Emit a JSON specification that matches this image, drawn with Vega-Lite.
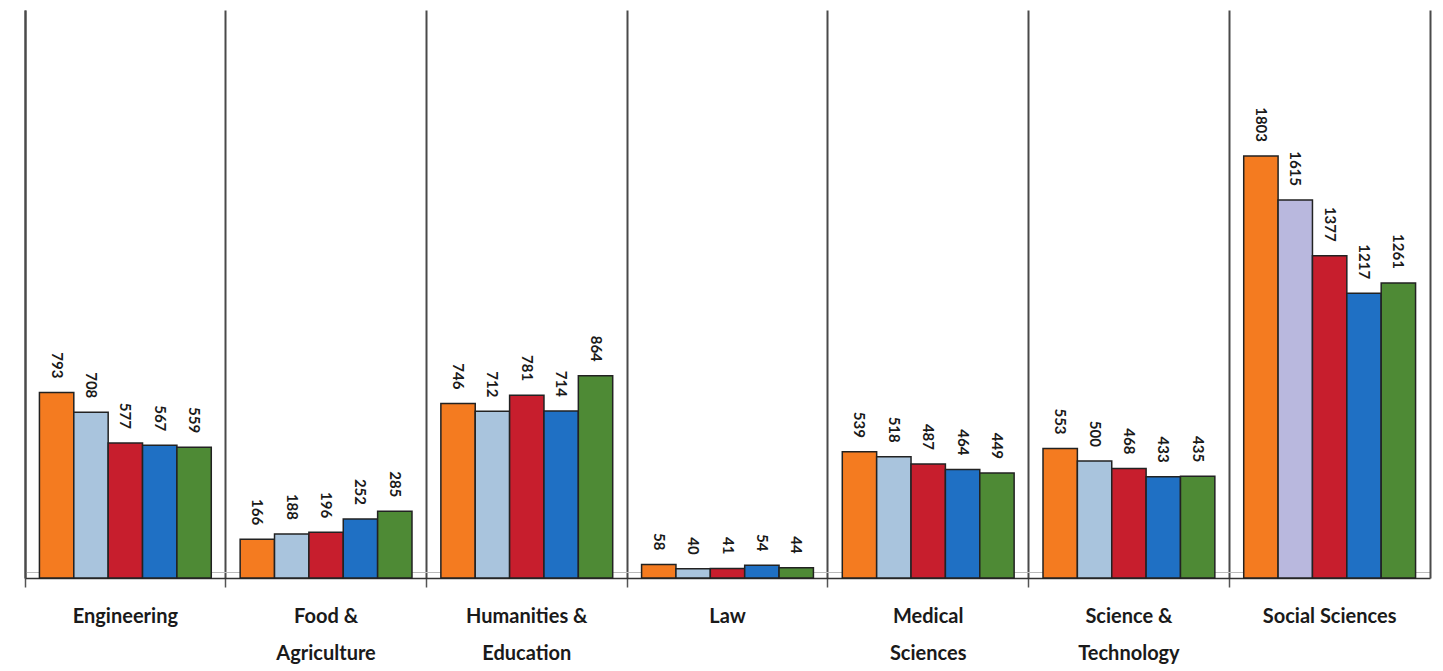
{
  "$schema": "https://vega.github.io/schema/vega-lite/v6.json",
  "autosize": "none",
  "width": 1405,
  "height": 568,
  "padding": {"top": 10, "left": 25, "right": 13, "bottom": 93},
  "background": "white",
  "config": {"view": {"stroke": null}},
  "data": {
    "values": [
      {"category": "Engineering", "series": 1, "value": 793},
      {"category": "Engineering", "series": 2, "value": 708},
      {"category": "Engineering", "series": 3, "value": 577},
      {"category": "Engineering", "series": 4, "value": 567},
      {"category": "Engineering", "series": 5, "value": 559},
      {"category": "Food & Agriculture", "series": 1, "value": 166},
      {"category": "Food & Agriculture", "series": 2, "value": 188},
      {"category": "Food & Agriculture", "series": 3, "value": 196},
      {"category": "Food & Agriculture", "series": 4, "value": 252},
      {"category": "Food & Agriculture", "series": 5, "value": 285},
      {"category": "Humanities & Education", "series": 1, "value": 746},
      {"category": "Humanities & Education", "series": 2, "value": 712},
      {"category": "Humanities & Education", "series": 3, "value": 781},
      {"category": "Humanities & Education", "series": 4, "value": 714},
      {"category": "Humanities & Education", "series": 5, "value": 864},
      {"category": "Law", "series": 1, "value": 58},
      {"category": "Law", "series": 2, "value": 40},
      {"category": "Law", "series": 3, "value": 41},
      {"category": "Law", "series": 4, "value": 54},
      {"category": "Law", "series": 5, "value": 44},
      {"category": "Medical Sciences", "series": 1, "value": 539},
      {"category": "Medical Sciences", "series": 2, "value": 518},
      {"category": "Medical Sciences", "series": 3, "value": 487},
      {"category": "Medical Sciences", "series": 4, "value": 464},
      {"category": "Medical Sciences", "series": 5, "value": 449},
      {"category": "Science & Technology", "series": 1, "value": 553},
      {"category": "Science & Technology", "series": 2, "value": 500},
      {"category": "Science & Technology", "series": 3, "value": 468},
      {"category": "Science & Technology", "series": 4, "value": 433},
      {"category": "Science & Technology", "series": 5, "value": 435},
      {"category": "Social Sciences", "series": 1, "value": 1803},
      {"category": "Social Sciences", "series": 2, "value": 1615},
      {"category": "Social Sciences", "series": 3, "value": 1377},
      {"category": "Social Sciences", "series": 4, "value": 1217},
      {"category": "Social Sciences", "series": 5, "value": 1261}
    ]
  },
  "encoding": {
    "x": {
      "field": "category",
      "type": "nominal",
      "sort": null,
      "scale": {"paddingInner": 0, "paddingOuter": 0},
      "axis": {
        "title": null,
        "bandPosition": 0,
        "grid": true,
        "gridColor": "#4a4a4a",
        "gridWidth": 2,
        "domain": true,
        "domainColor": "#333",
        "domainWidth": 1.5,
        "ticks": true,
        "tickSize": 9,
        "tickColor": "#555",
        "tickWidth": 1.5,
        "labelAngle": 0,
        "labelAlign": "center",
        "labelBaseline": "top",
        "labelDx": 100.4,
        "labelPadding": 19,
        "labelFont": "Lato",
        "labelFontSize": 20,
        "labelFontWeight": "bold",
        "labelColor": "#1a1a1a",
        "labelLineHeight": 37,
        "labelFlush": false,
        "labelOverlap": false,
        "labelBound": false,
        "labelExpr": "datum.value == 'Food & Agriculture' ? ['Food &', 'Agriculture'] : datum.value == 'Humanities & Education' ? ['Humanities &', 'Education'] : datum.value == 'Medical Sciences' ? ['Medical', 'Sciences'] : datum.value == 'Science & Technology' ? ['Science &', 'Technology'] : datum.value"
      }
    },
    "xOffset": {
      "field": "series",
      "type": "nominal",
      "scale": {"paddingInner": 0, "paddingOuter": 0.42}
    },
    "y": {
      "field": "value",
      "type": "quantitative",
      "scale": {"domain": [0, 2427], "nice": false, "zero": true}
    }
  },
  "layer": [
    {
      "mark": {"type": "bar", "stroke": "#222", "strokeWidth": 1.5},
      "encoding": {
        "y": {
          "field": "value",
          "type": "quantitative",
          "scale": {"domain": [0, 2427], "nice": false},
          "axis": {
            "orient": "left",
            "title": null,
            "labels": false,
            "ticks": false,
            "domain": true,
            "domainColor": "#4a4a4a",
            "domainWidth": 2,
            "grid": true,
            "values": [26],
            "gridColor": "#bbbbbb",
            "gridWidth": 1
          }
        },
        "fill": {
          "condition": {"test": "datum.category === 'Social Sciences' && datum.series === 2", "value": "#B9B8DE"},
          "field": "series",
          "type": "nominal",
          "scale": {"domain": [1, 2, 3, 4, 5], "range": ["#F47B20", "#A9C4DD", "#C71E2D", "#1F70C4", "#4E8A35"]},
          "legend": null
        }
      }
    },
    {
      "mark": {
        "type": "text",
        "angle": 90,
        "align": "right",
        "baseline": "middle",
        "dx": -14,
        "font": "Lato",
        "fontSize": 15,
        "fontWeight": "bold",
        "color": "#1a1a1a"
      },
      "encoding": {
        "y": {
          "field": "value",
          "type": "quantitative",
          "scale": {"domain": [0, 2427], "nice": false},
          "axis": {
            "orient": "right",
            "title": null,
            "labels": false,
            "ticks": false,
            "grid": false,
            "domain": true,
            "domainColor": "#4a4a4a",
            "domainWidth": 2
          }
        },
        "text": {"field": "value", "type": "quantitative"}
      }
    }
  ],
  "resolve": {"axis": {"y": "independent"}}
}
